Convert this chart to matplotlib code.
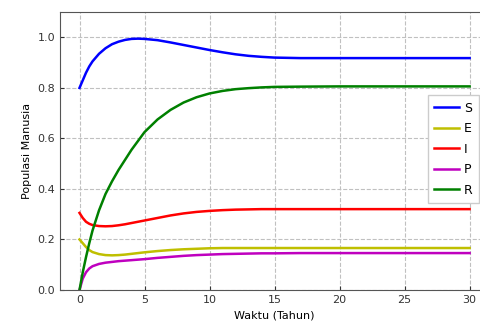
import matplotlib
matplotlib.use("Agg")
import matplotlib.pyplot as plt

# waktu (tahun)
t = [0, 0.25, 0.5, 0.75, 1, 1.5, 2, 2.5, 3, 3.5, 4, 4.5, 5, 6, 7, 8, 9, 10,
     11, 12, 13, 14, 15, 17, 20, 25, 30]

S = [0.80, 0.83, 0.86, 0.885, 0.905, 0.935, 0.957, 0.973, 0.983, 0.99, 0.994, 0.995, 0.994,
     0.989, 0.98, 0.97, 0.96, 0.95, 0.941, 0.933, 0.927, 0.923, 0.92, 0.918, 0.918, 0.918, 0.918]
E = [0.20, 0.185, 0.17, 0.158, 0.15, 0.142, 0.138, 0.137, 0.138, 0.14, 0.143, 0.146, 0.149,
     0.154, 0.158, 0.161, 0.163, 0.165, 0.166, 0.166, 0.166, 0.166, 0.166, 0.166, 0.166, 0.166, 0.166]
I = [0.305, 0.285, 0.27, 0.262, 0.257, 0.253, 0.252, 0.253, 0.256, 0.26, 0.265, 0.27, 0.275,
     0.285, 0.295, 0.303, 0.309, 0.313, 0.316, 0.318, 0.319, 0.32, 0.32, 0.32, 0.32, 0.32, 0.32]
P = [0.0, 0.045, 0.07, 0.085, 0.094, 0.103, 0.108, 0.111, 0.114, 0.116, 0.118, 0.12, 0.122,
     0.127, 0.131, 0.135, 0.138, 0.14, 0.142, 0.143, 0.144, 0.145, 0.145, 0.146, 0.146, 0.146, 0.146]
R = [0.0, 0.07, 0.13, 0.185, 0.235, 0.315, 0.38, 0.43, 0.475, 0.515, 0.555, 0.59, 0.625,
     0.675, 0.713, 0.742, 0.763, 0.778, 0.788, 0.795, 0.799, 0.802, 0.804, 0.805, 0.806, 0.806, 0.806]

series = [("S", S, "#0000ff"), ("E", E, "#bfbf00"), ("I", I, "#ff0000"),
          ("P", P, "#bf00bf"), ("R", R, "#008000")]

fig = plt.figure(figsize=(4.8, 3.28), dpi=100)
ax = fig.add_axes([0.125, 0.116, 0.894, 0.847])

for name, vals, c in series:
    ax.plot(t, vals, color=c, lw=1.8, label=name)

ax.set_xlim(-1.5, 31.5)
ax.set_ylim(0, 1.1)
ax.set_xticks([0, 5, 10, 15, 20, 25, 30])
ax.set_yticks([0.0, 0.2, 0.4, 0.6, 0.8, 1.0])
ax.grid(True, linestyle="--", color="#c0c0c0", lw=0.8)
ax.tick_params(labelsize=8, colors="#333333", direction="in", length=3)
for sp in ax.spines.values():
    sp.set_color("#555555")
ax.set_xlabel("Waktu (Tahun)", fontsize=8)
ax.set_ylabel("Populasi Manusia", fontsize=8)

ax.legend(loc="center left", bbox_to_anchor=(0.857, 0.507), borderaxespad=0,
          fontsize=9, handlelength=2.0, handletextpad=0.4, borderpad=0.5,
          labelspacing=0.6, fancybox=False, framealpha=1)

fig.savefig("out.png", dpi=100)
